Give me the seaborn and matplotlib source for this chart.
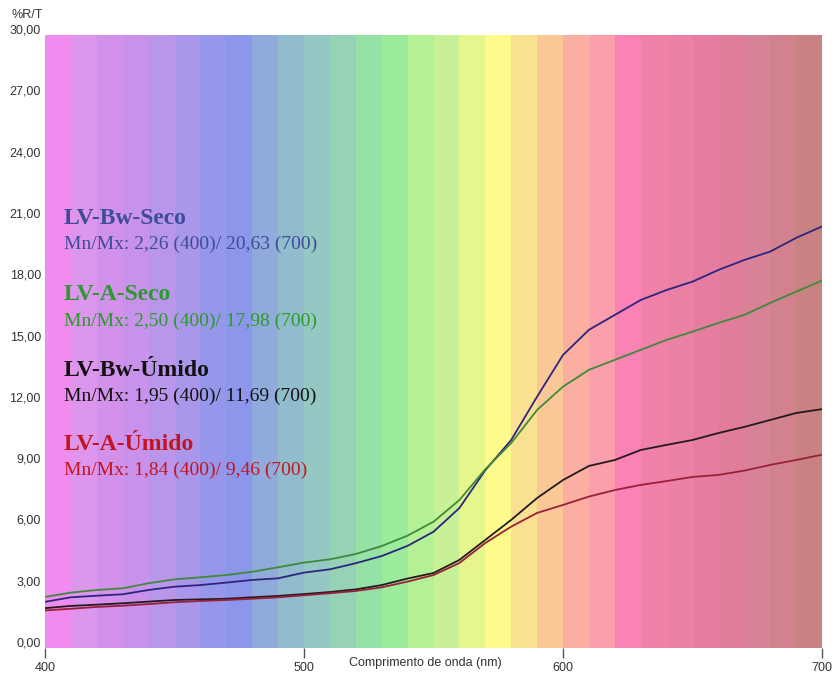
import numpy as np
import pandas as pd
import matplotlib
matplotlib.use("Agg")
import matplotlib.pyplot as plt
from matplotlib.transforms import ScaledTranslation
import seaborn as sns

# Wavelength grid (nm)
wavelength = [400, 410, 420, 430, 440, 450, 460, 470, 480, 490, 500,
              510, 520, 530, 540, 550, 560, 570, 580, 590, 600,
              610, 620, 630, 640, 650, 660, 670, 680, 690, 700]

# Reflectance curves (%R)
lv_bw_seco = [2.26, 2.48, 2.56, 2.63, 2.84, 3.00, 3.08, 3.20, 3.33, 3.41, 3.69,
              3.85, 4.15, 4.50, 5.00, 5.69, 6.85, 8.70, 10.18, 12.30, 14.34,
              15.57, 16.30, 17.03, 17.52, 17.93, 18.50, 18.99, 19.40, 20.07, 20.63]
lv_a_seco = [2.50, 2.71, 2.84, 2.92, 3.17, 3.36, 3.46, 3.57, 3.73, 3.95, 4.18,
             4.34, 4.60, 4.99, 5.50, 6.18, 7.24, 8.75, 10.03, 11.65, 12.79,
             13.61, 14.10, 14.59, 15.08, 15.48, 15.91, 16.30, 16.89, 17.44, 17.98]
lv_bw_umido = [1.95, 2.06, 2.12, 2.19, 2.27, 2.35, 2.38, 2.41, 2.48, 2.55, 2.64,
               2.74, 2.87, 3.08, 3.40, 3.67, 4.31, 5.29, 6.27, 7.34, 8.22,
               8.91, 9.20, 9.69, 9.94, 10.18, 10.52, 10.82, 11.16, 11.50, 11.69]
lv_a_umido = [1.84, 1.92, 2.01, 2.07, 2.15, 2.24, 2.30, 2.35, 2.41, 2.48, 2.58,
              2.68, 2.79, 2.97, 3.25, 3.57, 4.16, 5.14, 5.94, 6.61, 7.00,
              7.41, 7.73, 7.98, 8.17, 8.37, 8.47, 8.68, 8.96, 9.20, 9.46]

series_names = ["LV-Bw-Seco", "LV-A-Seco", "LV-Bw-Úmido", "LV-A-Úmido"]
summaries = ["Mn/Mx: 2,26 (400)/ 20,63 (700)",
             "Mn/Mx: 2,50 (400)/ 17,98 (700)",
             "Mn/Mx: 1,95 (400)/ 11,69 (700)",
             "Mn/Mx: 1,84 (400)/ 9,46 (700)"]
line_colors = ["#2e2480", "#3f8a3a", "#241a1e", "#9a1f3a"]
text_colors = ["#3d4c96", "#2a9a2a", "#111111", "#c4141e"]

# Spectrum background bands, one per 10 nm
band_start = wavelength[:-1]
band_colors = ["#f08cf0", "#dc96eb", "#d291eb", "#c891eb", "#b996eb", "#aa96eb",
               "#9696eb", "#8c96eb", "#91aadc", "#91bccd", "#96c8c3", "#96d2b4",
               "#96e1a5", "#9beb9b", "#b4f096", "#c8f096", "#e6f58c", "#fffa8c",
               "#fae191", "#fac896", "#faafa0", "#fa9fab", "#fa82b4", "#f082aa",
               "#eb82a5", "#e67da0", "#e17d9b", "#d78296", "#d2828c", "#c88282"]

y_ticks = [0, 3, 6, 9, 12, 15, 18, 21, 24, 27, 30]
x_ticks = [400, 500, 600, 700]

sns.set_theme(style="white")
plt.rcParams["font.family"] = ["Liberation Sans", "DejaVu Sans"]

fig = plt.figure(figsize=(8.34, 6.81), dpi=100)
ax = fig.add_axes([45 / 834, 1 - 648 / 681, 777 / 834, 613 / 681])
ax.grid(False)

# spectrum bands
ax.bar(band_start, [30] * len(band_start), width=10, align="edge",
       color=band_colors, edgecolor=band_colors, linewidth=0.6,
       antialiased=False, zorder=0)

df = pd.DataFrame({
    "nm": wavelength * 4,
    "R": lv_bw_seco + lv_a_seco + lv_bw_umido + lv_a_umido,
    "amostra": sum([[n] * len(wavelength) for n in series_names], []),
})
sns.lineplot(data=df, x="nm", y="R", hue="amostra", hue_order=series_names,
             palette=line_colors, linewidth=1.3, legend=False, ax=ax, zorder=3)

ax.set_xlim(400, 700)
ax.set_ylim(0, 30)
ax.grid(False)
for s in ax.spines.values():
    s.set_visible(False)

ax.set_xticks(x_ticks)
ax.set_xticklabels([str(v) for v in x_ticks])
ax.set_yticks(y_ticks)
ax.set_yticklabels([f"{v:.2f}".replace(".", ",") for v in y_ticks])
ax.tick_params(axis="x", length=7, width=1, color="#555555", direction="out",
               labelsize=9, labelcolor="#333333", pad=3, bottom=True)
ax.tick_params(axis="y", length=0, labelsize=9, labelcolor="#333333", pad=3)
for lab in ax.get_yticklabels():
    lab.set_transform(lab.get_transform() + ScaledTranslation(0, 6 / 100, fig.dpi_scale_trans))

ax.set_xlabel("Comprimento de onda (nm)", fontsize=9, color="#333333")
ax.xaxis.set_label_coords(0.489, -0.0245)
ax.xaxis.label.set_verticalalignment("center")
ax.set_ylabel("")

fig.text(12 / 834, 1 - 15 / 681, "%R/T", fontsize=9, color="#333333",
         ha="left", va="center")

# legend-style annotations
title_y = [218, 295, 370, 444]
for name, summ, col, ty in zip(series_names, summaries, text_colors, title_y):
    fig.text(64 / 834, 1 - ty / 681, name, fontsize=17, fontweight="bold",
             color=col, family=["Liberation Serif", "DejaVu Serif"],
             ha="left", va="center")
    fig.text(64 / 834, 1 - (ty + 26) / 681, summ, fontsize=14,
             color=col, family=["Liberation Serif", "DejaVu Serif"],
             ha="left", va="center")

fig.savefig("out.png", dpi=100, facecolor="white")
